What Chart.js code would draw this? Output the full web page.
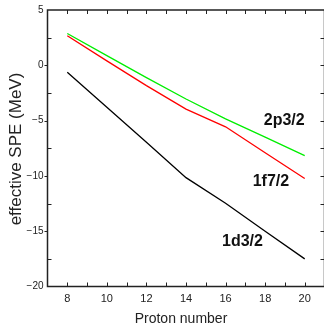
<!DOCTYPE html>
<html>
<head>
<meta charset="utf-8">
<script src="https://cdn.jsdelivr.net/npm/chart.js@4.4.1/dist/chart.umd.min.js"></script>
<style>
  html, body { margin: 0; padding: 0; background: #fff; overflow: hidden; }
  #wrap { width: 324px; height: 324px; overflow: hidden; }
</style>
</head>
<body>
<div id="wrap"><canvas id="spe" width="330" height="324"></canvas></div>
<script>
// proton number on x, effective single particle energies on y
const protons = [8, 10, 12, 14, 16, 18, 20];
const spe_2p32 = [2.88, 0.87, -1.12, -3.05, -4.85, -6.5, -8.17];
const spe_1f72 = [2.67, 0.40, -1.84, -3.96, -5.56, -7.9, -10.24];
const spe_1d32 = [-0.63, -3.8, -6.95, -10.16, -12.47, -15.0, -17.5];

const xTickLabels = [8, 10, 12, 14, 16, 18, 20];
const yTickLabels = [5, 0, -5, -10, -15, -20];

const FONT = "'Liberation Sans', Arial, Helvetica, sans-serif";
const INK = '#222';

function pts(ys){
  return protons.map((p, i) => ({x: p, y: ys[i]}));
}

// orbit names written next to each curve (data coords of the text's left baseline)
const curveNames = [
  {text: '2p3/2', x: 17.93, y: -5.36},
  {text: '1f7/2', x: 17.37, y: -10.95},
  {text: '1d3/2', x: 15.82, y: -16.35},
];

const framePlugin = {
  id: 'frame',
  afterDatasetsDraw(chart){
    const ctx = chart.ctx;
    const a = chart.chartArea;
    const xs = chart.scales.x, ys = chart.scales.y;
    ctx.save();
    ctx.strokeStyle = INK;
    ctx.lineWidth = 1.5;
    ctx.strokeRect(a.left, a.top, a.right - a.left, a.bottom - a.top);

    ctx.lineWidth = 1;
    ctx.beginPath();
    // x ticks, inward on bottom and top
    xs.ticks.forEach(t => {
      if (t.value <= xs.min || t.value >= xs.max) return;
      const px = Math.round(xs.getPixelForValue(t.value)) + 0.5;
      ctx.moveTo(px, a.bottom); ctx.lineTo(px, a.bottom - 4);
      ctx.moveTo(px, a.top); ctx.lineTo(px, a.top + 4);
    });
    // y ticks: minor inward on the left, major outward; all inward on the right
    ys.ticks.forEach(t => {
      if (t.value <= ys.min || t.value >= ys.max) return;
      const py = Math.round(ys.getPixelForValue(t.value)) + 0.5;
      if (t.value % 5 === 0) {
        ctx.moveTo(a.left, py); ctx.lineTo(a.left - 3, py);
      } else {
        ctx.moveTo(a.left, py); ctx.lineTo(a.left + 4, py);
      }
      ctx.moveTo(a.right, py); ctx.lineTo(a.right - 4, py);
    });
    ctx.stroke();

    // curve names
    ctx.fillStyle = '#111';
    ctx.font = 'bold 16px ' + FONT;
    ctx.textAlign = 'left';
    ctx.textBaseline = 'alphabetic';
    curveNames.forEach(n => {
      ctx.fillText(n.text, xs.getPixelForValue(n.x), ys.getPixelForValue(n.y));
    });

    // axis titles
    ctx.fillStyle = INK;
    ctx.font = '14px ' + FONT;
    ctx.textAlign = 'center';
    ctx.fillText('Proton number', 181, 323);

    ctx.translate(21, 149);
    ctx.rotate(-Math.PI / 2);
    ctx.font = '17px ' + FONT;
    ctx.fillText('effective SPE (MeV)', 0, 0);
    ctx.restore();
  }
};

const config = {
  type: 'line',
  data: {
    datasets: [
      {
        label: '2p3/2',
        data: pts(spe_2p32),
        borderColor: '#00ee00',
        borderWidth: 1.3,
        pointRadius: 0,
        fill: false,
      },
      {
        label: '1f7/2',
        data: pts(spe_1f72),
        borderColor: '#ff0000',
        borderWidth: 1.3,
        pointRadius: 0,
        fill: false,
      },
      {
        label: '1d3/2',
        data: pts(spe_1d32),
        borderColor: '#000000',
        borderWidth: 1.3,
        pointRadius: 0,
        fill: false,
      },
    ]
  },
  options: {
    responsive: false,
    animation: false,
    layout: { padding: { left: 0, right: 0, top: 9, bottom: 0 } },
    plugins: {
      legend: { display: false },
      tooltip: { enabled: false },
    },
    scales: {
      x: {
        type: 'linear',
        min: 7,
        max: 21,
        border: { display: false },
        grid: { display: false, drawTicks: false },
        afterFit: s => { s.height = 37.5; },
        ticks: {
          stepSize: 1,
          autoSkip: false,
          maxRotation: 0,
          padding: 5.5,
          color: INK,
          font: { family: FONT, size: 11 },
          callback: v => xTickLabels.includes(v) ? String(v) : '',
        },
      },
      y: {
        type: 'linear',
        min: -20,
        max: 5,
        border: { display: false },
        grid: { display: false, drawTicks: false },
        afterFit: s => { s.width = 47.5; },
        ticks: {
          stepSize: 2.5,
          autoSkip: false,
          padding: 4,
          color: INK,
          font: { family: FONT, size: 10 },
          callback: v => yTickLabels.includes(v) ? String(v).replace('-', '\u2212') : '',
        },
      },
    },
  },
  plugins: [framePlugin],
};

const chart = new Chart('spe', config);
</script>
</body>
</html>
